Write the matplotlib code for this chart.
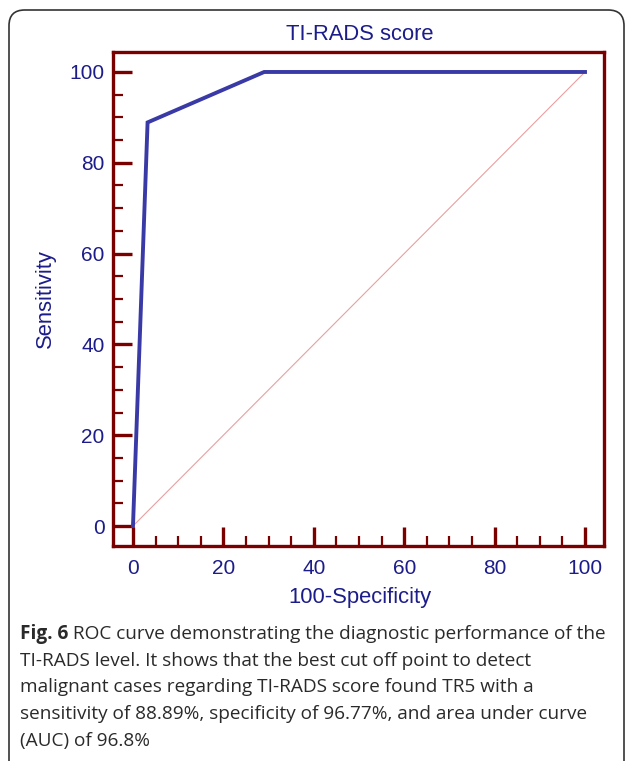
#!/usr/bin/env python
import numpy as np
import matplotlib
matplotlib.use('Agg')
import matplotlib.pyplot as plt
from matplotlib.patches import FancyBboxPatch
from matplotlib.ticker import FixedLocator

# ROC points (100-specificity, sensitivity)
fpr  = [0.0, 3.23, 29.03, 100.0]
sens = [0.0, 88.89, 100.0, 100.0]
ref_line = [0, 100]

title  = 'TI-RADS score'
xlabel = '100-Specificity'
ylabel = 'Sensitivity'
cap_bold = 'Fig. 6'
cap_lines = [
  ' ROC curve demonstrating the diagnostic performance of the',
  'TI-RADS level. It shows that the best cut off point to detect',
  'malignant cases regarding TI-RADS score found TR5 with a',
  'sensitivity of 88.89%, specificity of 96.77%, and area under curve',
  '(AUC) of 96.8%',
]

W, H = 627, 761
navy  = '#1c1c8a'
maroon = '#7a0000'
line_c = '#3a3aa6'

plt.rcParams['font.family'] = ['Liberation Sans', 'DejaVu Sans']

fig = plt.figure(figsize=(W/100., H/100.), dpi=100)

# rounded frame around the figure panel
box = FancyBboxPatch((9/W, -20/H), 615/W, 771/H,
  boxstyle='round,pad=0,rounding_size=0.025', transform=fig.transFigure,
  facecolor='none', edgecolor='#333333', lw=1.2, mutation_aspect=W/H, zorder=-1)
fig.patches.append(box)

ax = fig.add_axes([113/W, 1-546/H, 491/W, 494/H])
ax.plot(ref_line, ref_line, color='#e8a0a0', lw=0.8, zorder=1)
ax.plot(fpr, sens, color=line_c, lw=2.8, solid_joinstyle='miter', zorder=2)

ax.set_xlim(-4.42, 104.2)
ax.set_ylim(-4.4, 104.4)
for s in ax.spines.values():
  s.set_color(maroon)
  s.set_linewidth(2.4)
ax.set_xticks(np.arange(0, 101, 20))
ax.set_yticks(np.arange(0, 101, 20))
minor = [v for v in np.arange(0, 101, 5) if v % 20 != 0]
ax.xaxis.set_minor_locator(FixedLocator(minor))
ax.yaxis.set_minor_locator(FixedLocator(minor))
ax.tick_params(which='major', direction='in', length=14, width=2.4,
  color=maroon, labelcolor=navy, labelsize=15, top=False, right=False)
ax.tick_params(which='minor', direction='in', length=7, width=1.6,
  color=maroon, top=False, right=False)
ax.tick_params(axis='x', which='major', pad=9)
ax.tick_params(axis='y', which='major', pad=6)

fig.text(360/W, 1-34/H, title, color=navy, fontsize=15.8, ha='center', va='center')
fig.text(360/W, 1-598/H, xlabel, color=navy, fontsize=15.8, ha='center', va='center')
fig.text(45/W, 1-299/H, ylabel, color=navy, fontsize=15.8, ha='center', va='center',
  rotation=90)

# caption
cap_font = ['Open Sans', 'DejaVu Sans']
cap_c = '#2a2a2a'
cap_fs = 13.65
y0 = 634
dy = 26.75
tb = fig.text(20/W, 1-y0/H, cap_bold, family=cap_font, fontsize=cap_fs,
  fontweight='bold', color=cap_c, va='center', ha='left')
fig.canvas.draw()
bb = tb.get_window_extent(renderer=fig.canvas.get_renderer())
fig.text(bb.x1/W, 1-y0/H, cap_lines[0], family=cap_font, fontsize=cap_fs,
  color=cap_c, va='center', ha='left')
for i, ln in enumerate(cap_lines[1:]):
  fig.text(20/W, 1-(y0+dy*(i+1))/H, ln, family=cap_font, fontsize=cap_fs,
    color=cap_c, va='center', ha='left')

fig.savefig('out.png', dpi=100)
